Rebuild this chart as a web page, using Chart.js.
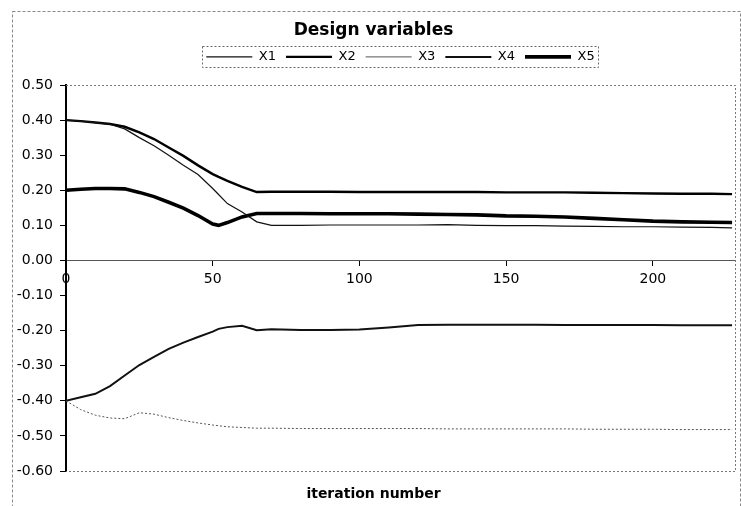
<!DOCTYPE html>
<html>
<head>
<meta charset="utf-8">
<script src="https://cdn.jsdelivr.net/npm/chart.js@4.4.0/dist/chart.umd.min.js"></script>
<style>
  html, body { margin: 0; padding: 0; background: #fff; }
</style>
</head>
<body>
<canvas id="chart" width="741" height="506"></canvas>
<script>
const iterations = [0, 5, 10, 15, 20, 25, 30, 35, 40, 45, 50, 52, 55, 60, 65, 70, 80, 90, 100, 110, 120, 130, 140, 150, 160, 170, 180, 190, 200, 210, 220, 227];

const x1 = [0.400, 0.397, 0.393, 0.388, 0.375, 0.350, 0.327, 0.300, 0.271, 0.245, 0.205, 0.188, 0.162, 0.138, 0.110, 0.100, 0.100, 0.101, 0.101, 0.101, 0.101, 0.102, 0.100, 0.099, 0.099, 0.098, 0.097, 0.096, 0.096, 0.095, 0.094, 0.093];
const x2 = [0.400, 0.397, 0.393, 0.389, 0.381, 0.365, 0.346, 0.322, 0.298, 0.271, 0.246, 0.238, 0.227, 0.210, 0.195, 0.196, 0.196, 0.196, 0.195, 0.195, 0.195, 0.195, 0.195, 0.194, 0.194, 0.194, 0.193, 0.192, 0.191, 0.190, 0.190, 0.189];
const x3 = [-0.400, -0.425, -0.441, -0.449, -0.451, -0.434, -0.438, -0.448, -0.456, -0.463, -0.469, -0.471, -0.474, -0.476, -0.478, -0.478, -0.479, -0.479, -0.479, -0.479, -0.479, -0.480, -0.480, -0.480, -0.480, -0.480, -0.481, -0.481, -0.481, -0.482, -0.482, -0.482];
const x4 = [-0.400, -0.390, -0.380, -0.358, -0.328, -0.298, -0.275, -0.252, -0.234, -0.218, -0.203, -0.195, -0.190, -0.186, -0.199, -0.196, -0.198, -0.198, -0.197, -0.191, -0.184, -0.183, -0.183, -0.183, -0.183, -0.184, -0.184, -0.184, -0.184, -0.185, -0.185, -0.185];
const x5 = [0.200, 0.203, 0.205, 0.205, 0.204, 0.194, 0.182, 0.166, 0.149, 0.128, 0.104, 0.100, 0.108, 0.124, 0.134, 0.134, 0.134, 0.133, 0.133, 0.133, 0.132, 0.131, 0.130, 0.127, 0.126, 0.124, 0.120, 0.116, 0.112, 0.110, 0.109, 0.108];

const seriesNames = ["X1", "X2", "X3", "X4", "X5"];
const seriesValues = [x1, x2, x3, x4, x5];
const lineWidths = [1.2, 2.4, 1, 2, 3.6];
const lineColors = ["#111", "#000", "#555", "#111", "#000"];
const lineDashes = [[], [], [2, 2], [], []];

const xTicks = [0, 50, 100, 150, 200];

Chart.defaults.font.family = "'DejaVu Sans', sans-serif";
Chart.defaults.color = "#000";

const datasets = seriesNames.map((name, k) => ({
  label: name,
  data: iterations.map((it, i) => ({ x: it, y: seriesValues[k][i] })),
  borderColor: lineColors[k],
  backgroundColor: lineColors[k],
  borderWidth: lineWidths[k],
  borderDash: lineDashes[k],
  pointRadius: 0,
  tension: 0
}));

// dotted plot frame, dashed outer border, legend box
const frame = {
  id: "frame",
  afterDraw(chart) {
    const { ctx, chartArea: a } = chart;
    ctx.save();
    ctx.strokeStyle = "#777";
    ctx.lineWidth = 1;
    ctx.setLineDash([2, 2]);
    ctx.beginPath();
    ctx.moveTo(a.left, Math.round(a.top) + 0.5);
    ctx.lineTo(Math.round(a.right) + 0.5, Math.round(a.top) + 0.5);
    ctx.lineTo(Math.round(a.right) + 0.5, Math.round(a.bottom) + 0.5);
    ctx.lineTo(a.left, Math.round(a.bottom) + 0.5);
    ctx.stroke();

    ctx.setLineDash([3, 2]);
    ctx.strokeStyle = "#888";
    ctx.strokeRect(12.5, 11.5, 728, 520);

    const hb = chart.legend && chart.legend.legendHitBoxes;
    if (hb && hb.length) {
      const l = Math.min(...hb.map(b => b.left)) - 4;
      const r = Math.max(...hb.map(b => b.left + b.width)) + 4;
      const t = Math.min(...hb.map(b => b.top)) - 4;
      const btm = Math.max(...hb.map(b => b.top + b.height)) + 4;
      ctx.setLineDash([2, 2]);
      ctx.strokeStyle = "#666";
      ctx.strokeRect(Math.round(l) + 0.5, Math.round(t) + 0.5, Math.round(r - l), Math.round(btm - t));
    }
    ctx.restore();
  }
};

new Chart(document.getElementById("chart").getContext("2d"), {
  type: "line",
  data: { datasets },
  options: {
    responsive: false,
    animation: false,
    devicePixelRatio: 1,
    layout: { padding: { left: 12, top: 11, right: 6, bottom: 0 } },
    plugins: {
      title: {
        display: true,
        text: "Design variables",
        font: { size: 17, weight: "bold" },
        padding: { top: 9, bottom: 0 }
      },
      subtitle: {
        display: true,
        position: "bottom",
        text: "iteration number",
        font: { size: 14, weight: "bold" },
        padding: { top: 14.6, bottom: 3.6 }
      },
      legend: {
        fullSize: false,
        labels: {
          usePointStyle: true,
          pointStyle: "line",
          pointStyleWidth: 46,
          boxHeight: 13,
          padding: 10,
          font: { size: 13 }
        }
      },
      tooltip: { enabled: false }
    },
    scales: {
      x: {
        type: "linear",
        position: { y: 0 },
        min: 0,
        max: 228,
        ticks: { stepSize: 50, font: { size: 14 }, padding: 6 },
        afterBuildTicks: s => { s.ticks = xTicks.map(v => ({ value: v })); },
        grid: { drawOnChartArea: false, drawTicks: true, tickLength: 5, color: "#000" },
        border: { color: "#555", width: 1 }
      },
      xTop: {
        type: "linear",
        position: "top",
        grid: { display: false },
        ticks: { display: false },
        border: { display: false },
        afterFit: s => { s.height = 11.6; }
      },
      y: {
        min: -0.6,
        max: 0.5,
        ticks: { stepSize: 0.1, font: { size: 14 }, padding: 7, callback: v => v.toFixed(2) },
        grid: { drawOnChartArea: false, drawTicks: true, tickLength: 6, color: "#000" },
        border: { color: "#000", width: 2 },
        afterFit: s => { s.width = 54; }
      }
    }
  },
  plugins: [frame]
});
</script>
</body>
</html>
